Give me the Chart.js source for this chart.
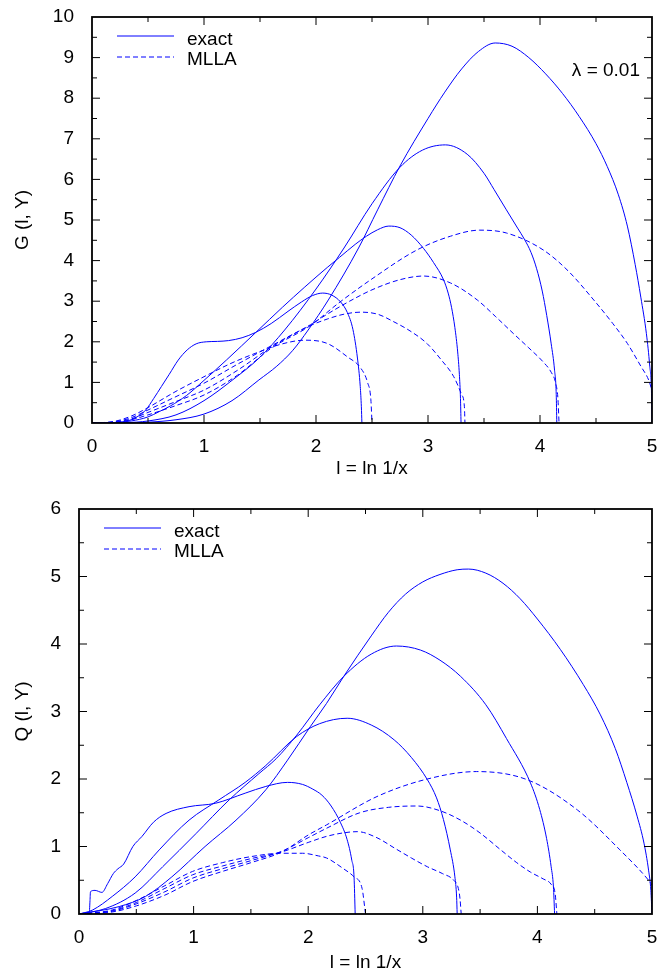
<!DOCTYPE html>
<html>
<head>
<meta charset="utf-8">
<title>G and Q vs l</title>
<script src="https://cdn.jsdelivr.net/npm/chart.js@4/dist/chart.umd.min.js"></script>
<style>
  body { margin: 0; background: #fff; }
  .box { position: absolute; left: 0; width: 657px; height: 487px; }
</style>
</head>
<body>
<div class="box" style="top:0"><canvas id="gChart" width="657" height="487"></canvas></div>
<div class="box" style="top:487px"><canvas id="qChart" width="657" height="487"></canvas></div>
<script>
// values: [l, value]
// top panel, G(l, Y)
const gExact24 = [[0,0],[0.25,0.02],[0.35,0.08],[0.42,0.18],[0.48,0.32],[0.55,0.6],[0.62,0.9],[0.69,1.2],[0.77,1.55],[0.85,1.8],[0.93,1.95],[1.02,2.0],[1.12,2.01],[1.22,2.03],[1.34,2.1],[1.46,2.23],[1.6,2.45],[1.75,2.75],[1.87,2.98],[1.97,3.14],[2.06,3.2],[2.14,3.15],[2.22,2.98],[2.28,2.72],[2.33,2.3],[2.37,1.6],[2.395,0.9],[2.405,0.4],[2.41,0]];
const gExact33 = [[0,0],[0.2,0.01],[0.35,0.05],[0.5,0.15],[0.6,0.28],[0.7,0.42],[0.845,0.68],[1.0,1.05],[1.2,1.55],[1.47,2.25],[1.7,2.85],[1.9,3.35],[2.1,3.83],[2.21,4.08],[2.35,4.4],[2.45,4.6],[2.55,4.76],[2.65,4.85],[2.75,4.81],[2.85,4.63],[2.96,4.3],[3.05,3.95],[3.14,3.52],[3.18,3.2],[3.21,2.85],[3.24,2.35],[3.265,1.75],[3.28,1.2],[3.29,0.6],[3.295,0]];
const gExact415 = [[0,0],[0.3,0.01],[0.5,0.05],[0.75,0.2],[1.0,0.55],[1.25,1.05],[1.5,1.62],[1.72,2.29],[2.0,3.3],[2.25,4.31],[2.5,5.4],[2.75,6.3],[2.95,6.72],[3.155,6.85],[3.35,6.62],[3.5,6.15],[3.59,5.75],[3.7,5.25],[3.8,4.8],[3.86,4.53],[3.92,4.2],[3.97,3.8],[4.02,3.25],[4.06,2.65],[4.1,1.95],[4.13,1.3],[4.145,0.7],[4.15,0]];
const gExact5 = [[0,0],[0.3,0.005],[0.5,0.02],[0.75,0.08],[1.0,0.22],[1.25,0.55],[1.49,1.06],[1.65,1.4],[1.79,1.78],[1.93,2.29],[2.11,3.03],[2.38,4.31],[2.55,5.25],[2.75,6.33],[3.0,7.5],[3.15,8.15],[3.3,8.72],[3.45,9.15],[3.6,9.36],[3.75,9.28],[3.9,9.0],[4.05,8.6],[4.2,8.12],[4.35,7.55],[4.5,6.88],[4.6,6.32],[4.7,5.62],[4.78,4.85],[4.85,3.9],[4.9,3.1],[4.95,2.2],[4.98,1.4],[4.995,0.8],[5.0,0]];
const gMlla25 = [[0,0],[0.2,0.04],[0.35,0.17],[0.5,0.38],[0.75,0.78],[1.0,1.14],[1.25,1.48],[1.5,1.76],[1.7,1.95],[1.9,2.04],[2.1,1.96],[2.28,1.63],[2.4,1.35],[2.46,1.0],[2.49,0.57],[2.5,0]];
const gMlla333 = [[0,0],[0.2,0.03],[0.35,0.13],[0.5,0.32],[0.75,0.65],[1.0,0.98],[1.3,1.45],[1.6,1.9],[1.95,2.4],[2.1,2.56],[2.25,2.68],[2.4,2.73],[2.55,2.68],[2.69,2.5],[2.85,2.25],[2.99,1.96],[3.12,1.55],[3.23,1.14],[3.3,0.7],[3.325,0.4],[3.33,0]];
const gMlla417 = [[0,0],[0.2,0.02],[0.35,0.1],[0.5,0.26],[0.75,0.53],[1.0,0.81],[1.3,1.3],[1.6,1.87],[1.95,2.42],[2.1,2.68],[2.3,3.0],[2.5,3.28],[2.75,3.53],[2.96,3.62],[3.2,3.45],[3.44,3.03],[3.6,2.63],[3.76,2.21],[3.9,1.85],[4.03,1.5],[4.1,1.25],[4.14,0.98],[4.16,0.6],[4.17,0]];
const gMlla5 = [[0,0],[0.2,0.015],[0.35,0.08],[0.5,0.2],[0.75,0.43],[1.0,0.69],[1.3,1.18],[1.6,1.84],[1.95,2.4],[2.2,2.95],[2.5,3.55],[2.9,4.26],[3.2,4.6],[3.46,4.75],[3.7,4.68],[4.03,4.26],[4.25,3.75],[4.48,3.03],[4.65,2.45],[4.78,1.96],[4.9,1.4],[4.97,1.06],[5.0,0.8]];

// bottom panel, Q(l, Y)
const qExact24 = [[0,0],[0.09,0.03],[0.096,0.2],[0.1,0.33],[0.14,0.35],[0.2,0.32],[0.25,0.45],[0.3,0.6],[0.34,0.67],[0.39,0.74],[0.47,1.0],[0.55,1.15],[0.65,1.36],[0.76,1.49],[0.96,1.59],[1.19,1.64],[1.45,1.79],[1.63,1.89],[1.82,1.95],[1.95,1.92],[2.04,1.85],[2.12,1.76],[2.2,1.6],[2.28,1.36],[2.34,1.1],[2.38,0.8],[2.4,0.55],[2.41,0]];
const qExact33 = [[0,0],[0.05,0.02],[0.12,0.06],[0.29,0.26],[0.49,0.55],[0.7,0.95],[0.96,1.39],[1.22,1.69],[1.45,1.95],[1.63,2.2],[1.9,2.63],[2.1,2.82],[2.34,2.9],[2.55,2.8],[2.75,2.58],[2.9,2.32],[3.04,1.99],[3.12,1.72],[3.18,1.4],[3.24,0.95],[3.28,0.55],[3.295,0.25],[3.3,0]];
const qExact415 = [[0,0],[0.23,0.08],[0.49,0.31],[0.73,0.7],[1.02,1.19],[1.31,1.69],[1.57,2.08],[1.72,2.3],[1.9,2.65],[2.1,3.1],[2.31,3.52],[2.55,3.85],[2.77,3.97],[2.98,3.91],[3.15,3.76],[3.33,3.52],[3.55,3.1],[3.73,2.6],[3.94,1.94],[4.02,1.55],[4.08,1.12],[4.12,0.7],[4.14,0.4],[4.15,0]];
const qExact5 = [[0,0],[0.35,0.11],[0.58,0.26],[0.81,0.55],[1.1,1.0],[1.37,1.39],[1.63,1.84],[1.82,2.28],[2.02,2.78],[2.16,3.12],[2.31,3.52],[2.55,4.12],[2.7,4.47],[2.85,4.74],[3.0,4.92],[3.15,5.03],[3.3,5.1],[3.4,5.11],[3.55,5.05],[3.7,4.9],[3.85,4.67],[4.0,4.37],[4.2,3.92],[4.4,3.4],[4.55,2.95],[4.68,2.45],[4.78,1.95],[4.87,1.45],[4.93,1.05],[4.97,0.65],[4.99,0.35],[5.0,0]];
const qMlla25 = [[0,0],[0.29,0.06],[0.5,0.2],[0.75,0.42],[0.99,0.63],[1.25,0.76],[1.5,0.85],[1.77,0.9],[1.95,0.9],[2.09,0.86],[2.16,0.83],[2.3,0.68],[2.4,0.55],[2.47,0.38],[2.5,0]];
const qMlla333 = [[0,0],[0.29,0.05],[0.5,0.17],[0.75,0.38],[0.99,0.58],[1.25,0.71],[1.5,0.82],[1.77,0.92],[2.0,1.06],[2.16,1.15],[2.3,1.2],[2.43,1.22],[2.6,1.13],[2.75,0.98],[2.9,0.83],[3.04,0.7],[3.17,0.6],[3.27,0.5],[3.31,0.38],[3.325,0.22],[3.335,0]];
const qMlla417 = [[0,0],[0.29,0.04],[0.5,0.15],[0.75,0.33],[0.99,0.53],[1.25,0.67],[1.5,0.79],[1.77,0.93],[2.0,1.13],[2.16,1.27],[2.45,1.5],[2.7,1.58],[2.95,1.6],[3.15,1.53],[3.33,1.39],[3.5,1.2],[3.68,0.95],[3.82,0.76],[3.94,0.62],[4.05,0.52],[4.12,0.44],[4.155,0.3],[4.17,0]];
const qMlla5 = [[0,0],[0.29,0.03],[0.5,0.12],[0.75,0.28],[0.99,0.48],[1.25,0.63],[1.5,0.76],[1.77,0.92],[2.0,1.17],[2.16,1.32],[2.6,1.74],[3.04,2.0],[3.47,2.11],[3.91,1.99],[4.35,1.54],[4.72,0.95],[4.97,0.5],[5.0,0.43]];

const legendNames = ['exact', 'MLLA'];
const xTitle = 'l = ln 1/x';

const BLUE = '#0000ff';
const FONT = "'Liberation Sans', Arial, Helvetica, sans-serif";
Chart.defaults.font.family = FONT;
Chart.defaults.color = '#000';

function curve(pts, dashed) {
  return {
    data: pts.map(p => ({ x: p[0], y: p[1] })),
    borderColor: BLUE,
    borderWidth: 1,
    borderDash: dashed ? [5, 3] : [],
    pointRadius: 0,
    fill: false,
    cubicInterpolationMode: 'monotone'
  };
}

// no extra room for overhanging tick labels, the plot box is fixed
function noPad(s) {
  s.paddingTop = s.paddingBottom = s.paddingLeft = s.paddingRight = 0;
}

// frame, inward ticks, legend and note
const framePlugin = {
  id: 'frame',
  afterDatasetsDraw(chart, args, opts) {
    const { ctx, chartArea: a, scales: { x, y } } = chart;
    ctx.save();
    ctx.strokeStyle = '#000';
    ctx.lineWidth = 1;
    ctx.beginPath();
    for (let v = 0.5; v < 5; v += 0.5) {
      const px = x.getPixelForValue(v), len = v % 1 ? 5 : 8;
      ctx.moveTo(px, a.bottom); ctx.lineTo(px, a.bottom - len);
      ctx.moveTo(px, a.top); ctx.lineTo(px, a.top + len);
    }
    for (let v = 0.5; v < y.max; v += 0.5) {
      const py = y.getPixelForValue(v), len = v % 1 ? 5 : 8;
      ctx.moveTo(a.left, py); ctx.lineTo(a.left + len, py);
      ctx.moveTo(a.right, py); ctx.lineTo(a.right - len, py);
    }
    ctx.stroke();
    ctx.lineWidth = 1.8;
    ctx.strokeRect(a.left, a.top, a.right - a.left, a.bottom - a.top);

    // legend
    ctx.font = '19px ' + FONT;
    ctx.fillStyle = '#000';
    ctx.textBaseline = 'alphabetic';
    ctx.textAlign = 'left';
    legendNames.forEach((name, i) => {
      const ly = a.top + 19 + i * 21;
      ctx.strokeStyle = BLUE;
      ctx.lineWidth = 1;
      ctx.setLineDash(i ? [5, 3] : []);
      ctx.beginPath();
      ctx.moveTo(a.left + 25, ly);
      ctx.lineTo(a.left + 82, ly);
      ctx.stroke();
      ctx.setLineDash([]);
      ctx.fillText(name, a.left + 95, a.top + 28 + i * 20);
    });
    if (opts.note) {
      ctx.textAlign = 'right';
      ctx.fillText(opts.note, a.right - 12, a.top + 59);
    }
    ctx.restore();
  }
};

function makeChart(id, sets, yMax, yTitle, axisWidth, padTop, titlePad, note) {
  return new Chart(document.getElementById(id), {
    type: 'line',
    data: { datasets: sets },
    plugins: [framePlugin],
    options: {
      responsive: false,
      animation: false,
      layout: { padding: { top: padTop, right: 5, left: 0, bottom: 0 } },
      plugins: { legend: { display: false }, tooltip: { enabled: false }, frame: { note: note } },
      scales: {
        x: {
          type: 'linear', min: 0, max: 5,
          grid: { display: false, drawTicks: false },
          border: { display: false },
          ticks: { stepSize: 1, padding: 12, maxRotation: 0, font: { size: 19 }, color: '#000' },
          title: { display: true, text: xTitle, font: { size: 19 }, color: '#000', padding: { top: 0, bottom: titlePad } },
          afterFit(s) { s.height = 487 - padTop - (yMax === 10 ? 406 : 405); noPad(s); }
        },
        y: {
          min: 0, max: yMax,
          grid: { display: false, drawTicks: false },
          border: { display: false },
          ticks: { stepSize: 1, padding: 18, font: { size: 19 }, color: '#000' },
          title: { display: true, text: yTitle, font: { size: 19 }, color: '#000', padding: { top: 11, bottom: 0 } },
          afterFit(s) { s.width = axisWidth; noPad(s); }
        }
      }
    }
  });
}

makeChart('gChart', [
  curve(gExact24), curve(gExact33), curve(gExact415), curve(gExact5),
  curve(gMlla25, true), curve(gMlla333, true), curve(gMlla417, true), curve(gMlla5, true)
], 10, 'G (l, Y)', 92, 17, 7, 'λ = 0.01');

makeChart('qChart', [
  curve(qExact24), curve(qExact33), curve(qExact415), curve(qExact5),
  curve(qMlla25, true), curve(qMlla333, true), curve(qMlla417, true), curve(qMlla5, true)
], 6, 'Q (l, Y)', 79, 22, 0, null);
</script>
</body>
</html>
